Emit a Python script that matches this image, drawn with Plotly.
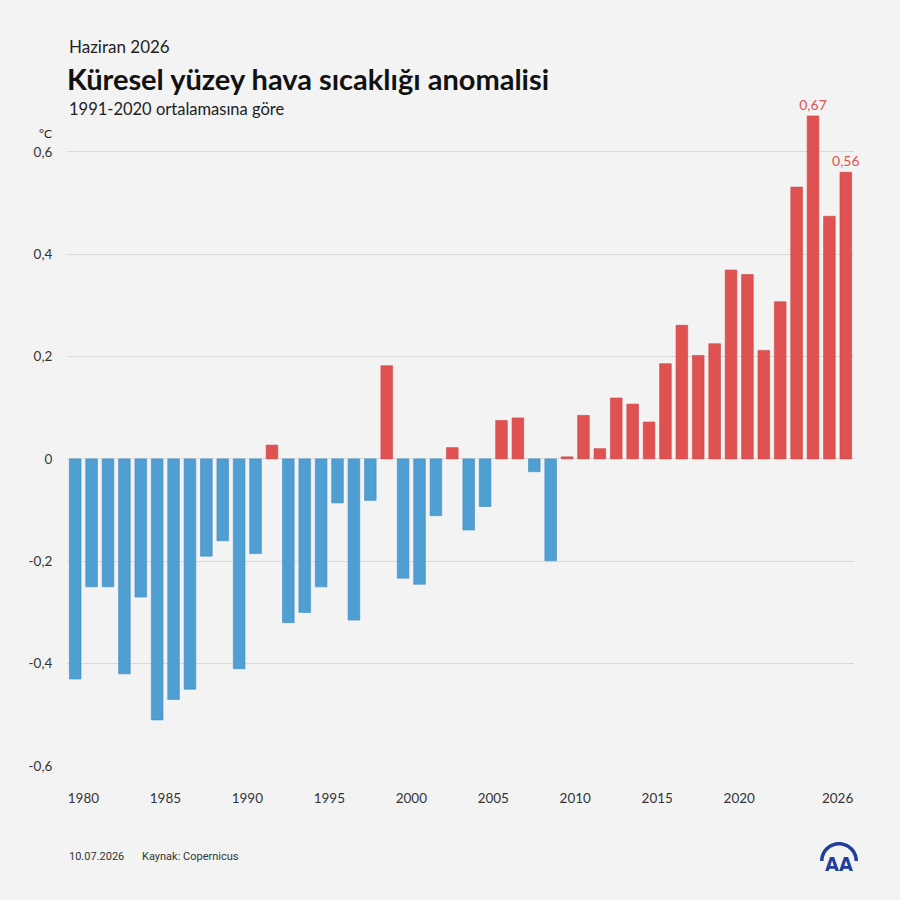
import math
import plotly.graph_objects as go

# ---- data ----
years = list(range(1979, 2027))
anomalies = [
    -0.43, -0.25, -0.25, -0.42, -0.27, -0.51, -0.47, -0.45, -0.19, -0.16,
    -0.41, -0.185, 0.027, -0.32, -0.30, -0.25, -0.086, -0.315, -0.081, 0.182,
    -0.233, -0.245, -0.111, 0.022, -0.139, -0.093, 0.075, 0.080, -0.025, -0.199,
    0.004, 0.085, 0.020, 0.119, 0.107, 0.072, 0.186, 0.261, 0.202, 0.225,
    0.369, 0.360, 0.212, 0.307, 0.531, 0.67, 0.474, 0.56,
]
labelled = {2024: "0,67", 2026: "0,56"}
xtick_years = [1980, 1985, 1990, 1995, 2000, 2005, 2010, 2015, 2020, 2026]
ytick_vals = [-0.6, -0.4, -0.2, 0, 0.2, 0.4, 0.6]
ytick_text = ["-0,6", "-0,4", "-0,2", "0", "0,2", "0,4", "0,6"]

BLUE = "#4f9fd2"
BLUE_EDGE = "#3f8cc0"
RED = "#e05252"
RED_EDGE = "#c94444"
BG = "#f3f3f3"

colors = [RED if v >= 0 else BLUE for v in anomalies]
edges = [RED_EDGE if v >= 0 else BLUE_EDGE for v in anomalies]
texts = [labelled.get(y, "") for y in years]

fig = go.Figure()
fig.add_trace(go.Bar(
    x=years, y=anomalies,
    marker=dict(color=colors, line=dict(color=edges, width=0.6)),
    width=0.71,
    text=texts, textposition="outside", constraintext="none",
    textfont=dict(color=RED, size=14, family="Lato"),
    cliponaxis=False,
    hoverinfo="x+y",
))

W, H = 900, 900
L, R, T, B = 67, 46, 75, 134

fig.update_layout(
    width=W, height=H,
    margin=dict(l=L, r=R, t=T, b=B),
    paper_bgcolor=BG, plot_bgcolor=BG,
    showlegend=False,
    font=dict(family="Lato", color="#222"),
    xaxis=dict(
        range=[1978.5, 2026.5],
        tickvals=[y - 0.5 for y in xtick_years],
        ticktext=[str(y) for y in xtick_years],
        showgrid=False, zeroline=False, showline=False,
        ticks="outside", ticklen=20, tickcolor="rgba(0,0,0,0)",
        tickfont=dict(size=13.5, color="#333", family="Lato"),
    ),
    yaxis=dict(
        range=[-0.6, 0.75],
        tickvals=ytick_vals, ticktext=ytick_text,
        showgrid=True, gridcolor="#d9d9d9", gridwidth=1,
        zeroline=True, zerolinecolor="#d9d9d9", zerolinewidth=1,
        showline=False,
        ticks="outside", ticklen=11, tickcolor="rgba(0,0,0,0)",
        tickfont=dict(size=13.5, color="#333", family="Lato"),
    ),
)

pw, ph = W - L - R, H - T - B
def px(x):
    return (x - L) / pw
def py(y):
    return 1 - (y - T) / ph

def note(text, x, y, size, color="#222", family="Lato", xanchor="left", yanchor="middle"):
    fig.add_annotation(text=text, xref="paper", yref="paper", x=px(x), y=py(y),
                       xanchor=xanchor, yanchor=yanchor, showarrow=False,
                       font=dict(size=size, color=color, family=family))

note("Haziran 2026", 67, 46, 17)
note("<b>Küresel yüzey hava sıcaklığı anomalisi</b>", 65, 79, 29, color="#111")
note("1991-2020 ortalamasına göre", 67, 109, 16.5)
note("°C", 37, 134, 12)
note("10.07.2026", 67, 856, 11, color="#333", family="Roboto")
note("Kaynak: Copernicus", 140, 856, 11, color="#333", family="Roboto")

# AA logo (decoration)
LOGO = "#1f3f99"
cx, cy, r1, r2 = 839, 861, 19, 15.5
def arc(r):
    pts = []
    for i in range(0, 37):
        a = math.pi * i / 36
        pts.append((cx + r * math.cos(a), cy - r * math.sin(a)))
    return pts
outer = arc(r1)
inner = arc(r2)[::-1]
path = "M " + " L ".join(f"{px(x)},{py(y)}" for x, y in outer + inner) + " Z"
fig.add_shape(type="path", path=path, xref="paper", yref="paper",
              fillcolor=LOGO, line=dict(width=0))
note("<b>AA</b>", cx, 864, 20, color=LOGO, family="DejaVu Sans Condensed", xanchor="center")

fig.write_html("out.html")
